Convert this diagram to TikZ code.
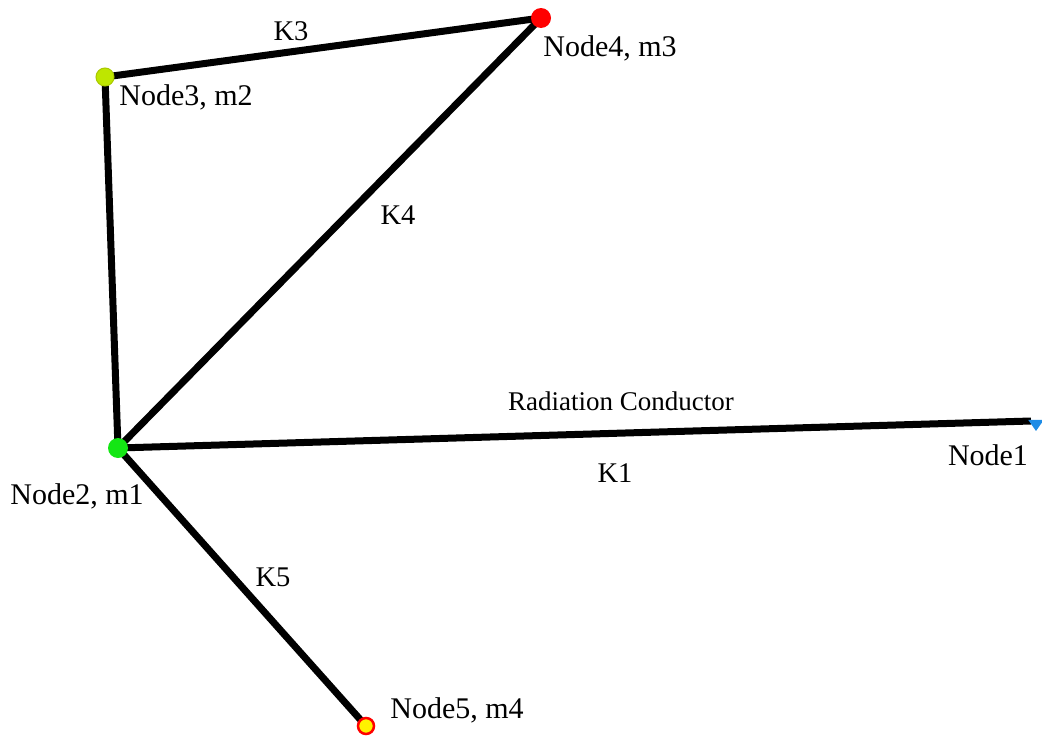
\documentclass[tikz,border=0pt]{standalone}
\usepackage{fontspec}
\setmainfont{Liberation Serif}
\usetikzlibrary{shapes.geometric}
\begin{document}
\begin{tikzpicture}[x=1pt,y=-1pt,
  conductor/.style={line width=7pt},
  mass/.style={circle,inner sep=0pt,minimum size=18pt},
  lbl/.style={font=\fontsize{30}{33}\selectfont,inner sep=0pt},
  klbl/.style={font=\fontsize{28.5}{31}\selectfont,inner sep=0pt}]
\useasboundingbox (0,0) rectangle (1042,736);
% conductors
\coordinate (n1) at (1031,421);
\coordinate (n2) at (118,448);
\coordinate (n3) at (105,77);
\coordinate (n4) at (541,18);
\coordinate (n5) at (366,726);
\draw[conductor] (n3) -- (n4);
\draw[conductor] (n3) -- (n2);
\draw[conductor] (n2) -- (n4);
\draw[conductor] (n2) -- (n1);
\draw[conductor] (n2) -- (n5);
% node markers
\node[mass,fill={rgb,255:red,190;green,230;blue,0},draw={rgb,255:red,170;green,200;blue,0},line width=1pt] (m3) at (n3) {};
\node[mass,fill=red,minimum size=20pt] (m4) at (n4) {};
\node[mass,fill={rgb,255:red,20;green,230;blue,20},minimum size=20pt] (m2) at (n2) {};
\node[mass,fill=yellow,draw=red,line width=2.5pt,minimum size=16pt] (m5) at (n5) {};
\node[isosceles triangle,shape border rotate=-90,isosceles triangle apex angle=70,fill={rgb,255:red,30;green,140;blue,230},inner sep=0pt,minimum width=14pt,minimum height=11pt] (m1) at (1036,424) {};
% labels
\node[klbl] (k3) at (291,31) {K3};
\node[lbl] (t4) at (610,48) {Node4, m3};
\node[lbl] (t3) at (186,97) {Node3, m2};
\node[klbl] (k4) at (398,215) {K4};
\node[font=\fontsize{27}{30}\selectfont,inner sep=0pt] (rc) at (621,401) {Radiation Conductor};
\node[klbl] (k1) at (615,473) {K1};
\node[lbl] (t1) at (988,455) {Node1};
\node[lbl] (t2) at (77,496) {Node2, m1};
\node[klbl] (k5) at (273,577) {K5};
\node[lbl] (t5) at (457,710) {Node5, m4};
\end{tikzpicture}
\end{document}
